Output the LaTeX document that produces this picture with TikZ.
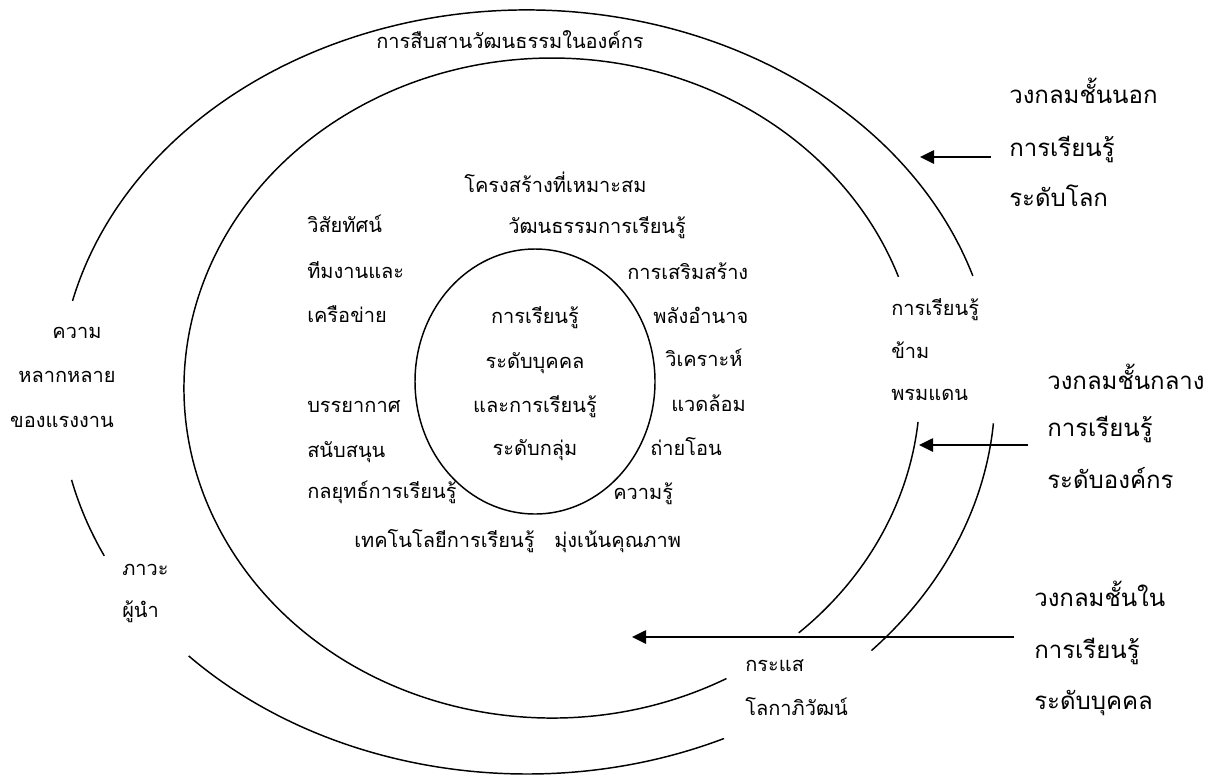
\documentclass[tikz,border=0pt]{standalone}
\usepackage{fontspec}
\newfontfamily\thaifont[Script=Thai]{Loma}
\usetikzlibrary{arrows.meta}
\tikzset{
  ring/.style={line width=1.1pt, black},
  arr/.style={line width=1.2pt, -{Triangle[length=10.5pt,width=10pt]}},
  lbl/.style={inner sep=0pt, anchor=base west, font=\thaifont\fontsize{15}{18}\selectfont},
  clbl/.style={lbl, anchor=base},
  big/.style={inner sep=0pt, anchor=base west, font=\thaifont\fontsize{18}{21}\selectfont},
}
\begin{document}
\begin{tikzpicture}[x=0.75pt,y=0.75pt,yscale=-1]
\useasboundingbox (0,0) rectangle (1213,775);
\fill[white] (0,0) rectangle (1213,775);
% outer ring (global)
\draw[ring] (527,392) ++(-166.2:468 and 382) arc[start angle=-166.2, end angle=-17.7, x radius=468, y radius=382];
\draw[ring] (527,392) ++(-205.4:468 and 382) arc[start angle=-205.4, end angle=-193.3, x radius=468, y radius=382];
\draw[ring] (527,392) ++(-294.9:468 and 382) arc[start angle=-294.9, end angle=-223.7, x radius=468, y radius=382];
\draw[ring] (527,392) ++(-355.3:468 and 382) arc[start angle=-355.3, end angle=-317.4, x radius=468, y radius=382];
% middle ring (organisation)
\draw[ring] (552,388) ++(-298.3:368 and 330) arc[start angle=-298.3, end angle=-19.7, x radius=368, y radius=330];
\draw[ring] (552,388) ++(-354.1:368 and 330) arc[start angle=-354.1, end angle=-312.1, x radius=368, y radius=330];
% inner circle
\draw[ring] (535,381.5) ellipse[x radius=120, y radius=132.5];

% texts
\node[clbl] (title) at (510,48) {การสืบสานวัฒนธรรมในองค์กร};
\node[lbl] (struct) at (464,192) {โครงสร้างที่เหมาะสม};
\node[lbl] (culture) at (508,233) {วัฒนธรรมการเรียนรู้};
\node[lbl] (vision) at (307,232) {วิสัยทัศน์};
\node[lbl] (team1) at (307,278) {ทีมงานและ};
\node[lbl] (team2) at (307,322) {เครือข่าย};
\node[lbl] (atmo1) at (307,412) {บรรยากาศ};
\node[lbl] (atmo2) at (307,457) {สนับสนุน};
\node[lbl] (strat) at (307,498) {กลยุทธ์การเรียนรู้};
\node[lbl] (tech) at (354,547) {เทคโนโลยีการเรียนรู้};
\node[lbl] (emp1) at (627,279) {การเสริมสร้าง};
\node[lbl] (emp2) at (653,323) {พลังอำนาจ};
\node[lbl] (env1) at (665,366) {วิเคราะห์};
\node[lbl] (env2) at (671,411) {แวดล้อม};
\node[lbl] (know1) at (650,455) {ถ่ายโอน};
\node[lbl] (know2) at (613,499) {ความรู้};
\node[lbl] (qual) at (554,547) {มุ่งเน้นคุณภาพ};
\node[clbl] (c1) at (535,323) {การเรียนรู้};
\node[clbl] (c2) at (535,368) {ระดับบุคคล};
\node[clbl] (c3) at (535,412) {และการเรียนรู้};
\node[clbl] (c4) at (535,455) {ระดับกลุ่ม};
\node[clbl] (div1) at (77,338) {ความ};
\node[clbl] (div2) at (67,382) {หลากหลาย};
\node[clbl] (div3) at (62,427) {ของแรงงาน};
\node[lbl] (lead1) at (122,575) {ภาวะ};
\node[lbl] (lead2) at (122,617) {ผู้นำ};
\node[lbl] (glob1) at (745,671) {กระแส};
\node[lbl] (glob2) at (745,715) {โลกาภิวัฒน์};
\node[lbl] (cross1) at (891,315) {การเรียนรู้};
\node[lbl] (cross2) at (891,358) {ข้าม};
\node[lbl] (cross3) at (891,400) {พรมแดน};
\node[big] (o1) at (1009,103) {วงกลมชั้นนอก};
\node[big] (o2) at (1009,156) {การเรียนรู้};
\node[big] (o3) at (1009,206) {ระดับโลก};
\node[big] (m1) at (1047,389) {วงกลมชั้นกลาง};
\node[big] (m2) at (1047,436) {การเรียนรู้};
\node[big] (m3) at (1047,488) {ระดับองค์กร};
\node[big] (i1) at (1034,606) {วงกลมชั้นใน};
\node[big] (i2) at (1034,658) {การเรียนรู้};
\node[big] (i3) at (1034,709) {ระดับบุคคล};

% arrows
\coordinate (a1s) at (991,157);
\coordinate (a1e) at (920,157);
\coordinate (a2s) at (1028,445);
\coordinate (a2e) at (919,445);
\coordinate (a3s) at (1014,637);
\coordinate (a3e) at (632,637);
\draw[arr] (a1s) -- (a1e);
\draw[arr] (a2s) -- (a2e);
\draw[arr] (a3s) -- (a3e);
\end{tikzpicture}
\end{document}
